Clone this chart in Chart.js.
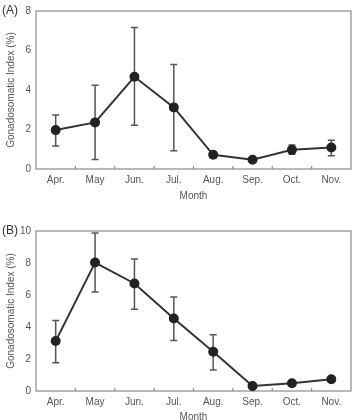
<!DOCTYPE html>
<html>
<head>
<meta charset="utf-8">
<script src="https://cdn.jsdelivr.net/npm/chart.js@4.4.1/dist/chart.umd.min.js"></script>
<style>
  body { margin: 0; background: #fff; }
  .panel { position: absolute; left: 0; width: 357px; height: 210px; overflow: hidden; }
  #wrapA { top: 0; }
  #wrapB { top: 210px; }
</style>
</head>
<body>
<div class="panel" id="wrapA"><canvas id="chartA" width="357" height="210"></canvas></div>
<div class="panel" id="wrapB"><canvas id="chartB" width="357" height="216"></canvas></div>
<script>
// months on the x axis
const months = ["Apr.", "May", "Jun.", "Jul.", "Aug.", "Sep.", "Oct.", "Nov."];

// panel A - mean GSI and error bar ends
const meanA = [1.97, 2.36, 4.67, 3.12, 0.72, 0.47, 0.97, 1.09];
const lowA  = [1.17, 0.48, 2.21, 0.92, 0.57, 0.40, 0.75, 0.67];
const highA = [2.73, 4.24, 7.17, 5.29, 0.87, 0.54, 1.22, 1.46];

// panel B
const meanB = [3.12, 8.03, 6.72, 4.53, 2.45, 0.31, 0.48, 0.73];
const lowB  = [1.77, 6.19, 5.11, 3.16, 1.31, 0.31, 0.48, 0.73];
const highB = [4.41, 9.88, 8.25, 5.88, 3.51, 0.31, 0.48, 0.73];

const ticksA = [0, 2, 4, 6, 8];
const ticksB = [0, 2, 4, 6, 8, 10];

const textCol = "#555";
const fontFam = "'Liberation Sans', Arial, sans-serif";

// frame, inward x ticks, error bars, panel letter
const decorPlugin = {
  id: "decor",
  beforeDatasetsDraw(chart, args, opts) {
    const ctx = chart.ctx;
    const a = chart.chartArea;
    const x = chart.scales.x;
    const y = chart.scales.y;
    ctx.save();
    // frame
    ctx.strokeStyle = "#8a8a8a";
    ctx.lineWidth = 1.2;
    ctx.strokeRect(a.left, a.top, a.right - a.left, a.bottom - a.top);
    // small ticks between months
    for (let i = 1; i < months.length; i++) {
      const px = (x.getPixelForValue(i - 1) + x.getPixelForValue(i)) / 2;
      ctx.beginPath();
      ctx.moveTo(px, a.bottom);
      ctx.lineTo(px, a.bottom - 3);
      ctx.stroke();
    }
    // error bars
    ctx.strokeStyle = "#555";
    ctx.lineWidth = 1.5;
    opts.low.forEach((lo, i) => {
      const hi = opts.high[i];
      if (hi - lo < 0.01) return;
      const px = x.getPixelForValue(i);
      const y1 = y.getPixelForValue(lo);
      const y2 = y.getPixelForValue(hi);
      ctx.beginPath();
      ctx.moveTo(px, y1); ctx.lineTo(px, y2);
      ctx.moveTo(px - 3.5, y1); ctx.lineTo(px + 3.5, y1);
      ctx.moveTo(px - 3.5, y2); ctx.lineTo(px + 3.5, y2);
      ctx.stroke();
    });
    ctx.restore();
  },
  afterDraw(chart, args, opts) {
    const ctx = chart.ctx;
    ctx.save();
    ctx.fillStyle = "#333";
    ctx.font = "12px " + fontFam;
    ctx.textBaseline = "middle";
    ctx.textAlign = "left";
    ctx.fillText(opts.label, 2, chart.chartArea.top);
    ctx.restore();
  }
};

function makeChart(id, mean, low, high, ticks, label, padTop, padBottom, xHeight) {
  new Chart(document.getElementById(id), {
    type: "line",
    data: {
      labels: months,
      datasets: [{
        data: mean,
        borderColor: "#333",
        borderWidth: 2,
        pointBackgroundColor: "#222",
        pointBorderColor: "#222",
        pointRadius: 4,
        tension: 0
      }]
    },
    options: {
      responsive: false,
      animation: false,
      layout: { padding: { top: padTop, right: 2, left: 0, bottom: padBottom } },
      plugins: {
        legend: { display: false },
        tooltip: { enabled: false },
        decor: { low: low, high: high, label: label }
      },
      scales: {
        x: {
          offset: true,
          grid: { display: false, drawTicks: false },
          border: { display: false },
          ticks: { color: textCol, font: { family: fontFam, size: 10 }, padding: 5, maxRotation: 0 },
          title: { display: true, text: "Month", color: textCol, font: { family: fontFam, size: 10 }, padding: { top: 2, bottom: 0 } },
          afterFit(scale) { scale.height = xHeight; }
        },
        y: {
          min: ticks[0],
          max: ticks[ticks.length - 1],
          grid: { display: false, drawTicks: false },
          border: { display: false },
          afterBuildTicks(scale) { scale.ticks = ticks.map(v => ({ value: v })); },
          ticks: { color: textCol, font: { family: fontFam, size: 10 }, padding: 5 },
          title: { display: true, text: "Gonadosomatic Index (%)", color: textCol, font: { family: fontFam, size: 10 }, padding: { top: 5, bottom: 0 } },
          afterFit(scale) { scale.width = 36; }
        }
      }
    },
    plugins: [decorPlugin]
  });
}

makeChart("chartA", meanA, lowA, highA, ticksA, "(A)", 10, 8, 33);
makeChart("chartB", meanB, lowB, highB, ticksB, "(B)", 21, 3, 32);
</script>
</body>
</html>
